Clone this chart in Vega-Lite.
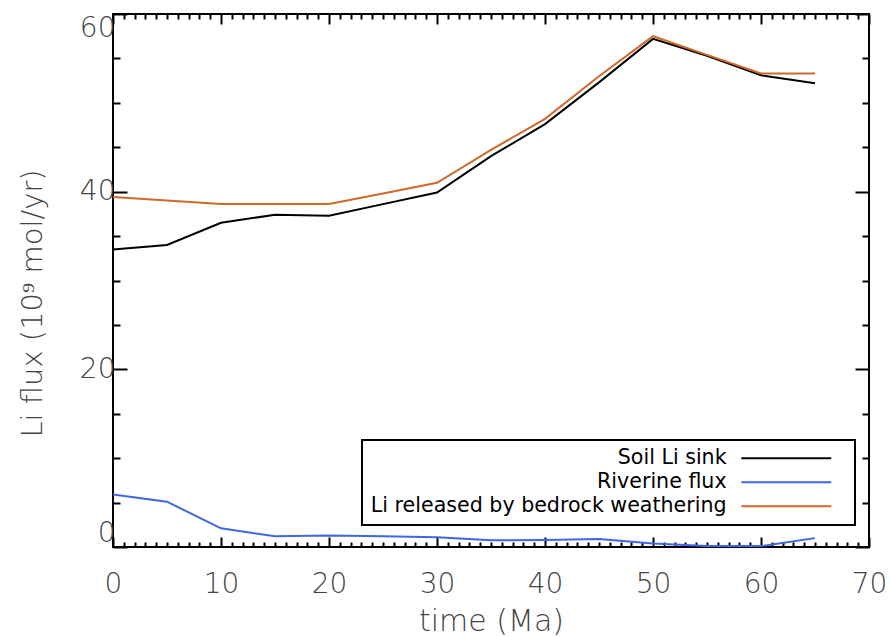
{
  "$schema": "https://vega.github.io/schema/vega-lite/v6.json",
  "width": 756,
  "height": 533,
  "autosize": {"type": "none"},
  "padding": {"left": 113, "top": 14, "right": 21, "bottom": 90},
  "background": "white",
  "config": {
    "view": {"stroke": "black", "strokeWidth": 2},
    "font": "DejaVu Sans",
    "axis": {"domain": false, "grid": false, "tickColor": "black", "tickWidth": 2, "labelColor": "#444", "titleColor": "#444", "labelFont": "DejaVu Sans", "titleFont": "DejaVu Sans", "labelFontWeight": 200, "titleFontWeight": 200},
    "legend": {"strokeColor": "black", "strokeWidth": 2, "fillColor": "white", "padding": 8}
  },
  "data": {
    "values": [
      {"t": 0, "series": "Soil Li sink", "flux": 33.5},
      {"t": 5, "series": "Soil Li sink", "flux": 34.0},
      {"t": 10, "series": "Soil Li sink", "flux": 36.5},
      {"t": 15, "series": "Soil Li sink", "flux": 37.4},
      {"t": 20, "series": "Soil Li sink", "flux": 37.3},
      {"t": 25, "series": "Soil Li sink", "flux": 38.6},
      {"t": 30, "series": "Soil Li sink", "flux": 39.9},
      {"t": 35, "series": "Soil Li sink", "flux": 44.0},
      {"t": 40, "series": "Soil Li sink", "flux": 47.6},
      {"t": 45, "series": "Soil Li sink", "flux": 52.3},
      {"t": 50, "series": "Soil Li sink", "flux": 57.2},
      {"t": 55, "series": "Soil Li sink", "flux": 55.3},
      {"t": 60, "series": "Soil Li sink", "flux": 53.1},
      {"t": 65, "series": "Soil Li sink", "flux": 52.2},
      {"t": 0, "series": "Riverine flux", "flux": 5.9},
      {"t": 5, "series": "Riverine flux", "flux": 5.1},
      {"t": 10, "series": "Riverine flux", "flux": 2.1},
      {"t": 15, "series": "Riverine flux", "flux": 1.2},
      {"t": 20, "series": "Riverine flux", "flux": 1.3},
      {"t": 25, "series": "Riverine flux", "flux": 1.2},
      {"t": 30, "series": "Riverine flux", "flux": 1.1},
      {"t": 35, "series": "Riverine flux", "flux": 0.75},
      {"t": 40, "series": "Riverine flux", "flux": 0.8},
      {"t": 45, "series": "Riverine flux", "flux": 0.9},
      {"t": 50, "series": "Riverine flux", "flux": 0.4},
      {"t": 55, "series": "Riverine flux", "flux": 0.1},
      {"t": 60, "series": "Riverine flux", "flux": 0.1},
      {"t": 65, "series": "Riverine flux", "flux": 1.0},
      {"t": 0, "series": "Li released by bedrock weathering", "flux": 39.4},
      {"t": 5, "series": "Li released by bedrock weathering", "flux": 39.0},
      {"t": 10, "series": "Li released by bedrock weathering", "flux": 38.6},
      {"t": 15, "series": "Li released by bedrock weathering", "flux": 38.6},
      {"t": 20, "series": "Li released by bedrock weathering", "flux": 38.6},
      {"t": 25, "series": "Li released by bedrock weathering", "flux": 39.8},
      {"t": 30, "series": "Li released by bedrock weathering", "flux": 41.0},
      {"t": 35, "series": "Li released by bedrock weathering", "flux": 44.7},
      {"t": 40, "series": "Li released by bedrock weathering", "flux": 48.2},
      {"t": 45, "series": "Li released by bedrock weathering", "flux": 53.0},
      {"t": 50, "series": "Li released by bedrock weathering", "flux": 57.5},
      {"t": 55, "series": "Li released by bedrock weathering", "flux": 55.4},
      {"t": 60, "series": "Li released by bedrock weathering", "flux": 53.3},
      {"t": 65, "series": "Li released by bedrock weathering", "flux": 53.3}
    ]
  },
  "layer": [
    {
      "mark": {"type": "line", "strokeWidth": 2},
      "encoding": {
        "x": {
          "field": "t", "type": "quantitative",
          "scale": {"domain": [0, 70], "nice": false, "zero": false},
          "axis": {
            "orient": "bottom",
            "values": [0,1,2,3,4,5,6,7,8,9,10,11,12,13,14,15,16,17,18,19,20,21,22,23,24,25,26,27,28,29,30,31,32,33,34,35,36,37,38,39,40,41,42,43,44,45,46,47,48,49,50,51,52,53,54,55,56,57,58,59,60,61,62,63,64,65,66,67,68,69,70],
            "labelExpr": "datum.value % 10 === 0 ? datum.label : ''",
            "tickSize": {"condition": {"test": "datum.value % 10 === 0", "value": -10}, "value": -5},
            "labelFlush": false,
            "labelOverlap": false,
            "labelFontSize": 28,
            "labelPadding": 33,
            "title": "time (Ma)",
            "titleFontSize": 30,
            "titlePadding": 3
          }
        },
        "y": {
          "field": "flux", "type": "quantitative",
          "scale": {"domain": [0, 60], "nice": false},
          "axis": {
            "orient": "left",
            "values": [0,5,10,15,20,25,30,35,40,45,50,55,60],
            "labelExpr": "datum.value % 20 === 0 ? datum.label : ''",
            "tickSize": {"condition": {"test": "datum.value % 20 === 0", "value": -14}, "value": -7},
            "labelFlush": true,
            "labelOverlap": false,
            "labelFontSize": 28,
            "labelPadding": 12,
            "title": "Li flux (10⁹ mol/yr)",
            "titleFontSize": 29,
            "titleX": -66,
            "titleY": 289
          }
        },
        "color": {
          "field": "series", "type": "nominal",
          "scale": {
            "domain": ["Soil Li sink", "Riverine flux", "Li released by bedrock weathering"],
            "range": ["#000000", "#3f66e3", "#d0692a"]
          },
          "legend": {
            "orient": "none",
            "legendX": 249,
            "legendY": 426,
            "symbolType": "M 361,0 H 451 M 462,0",
            "symbolSize": 4,
            "symbolStrokeWidth": 2,
            "symbolFillColor": "transparent",
            "labelAlign": "right",
            "labelOffset": 336,
            "labelFontSize": 20.6,
            "labelFont": "DejaVu Sans",
            "labelColor": "black",
            "labelLimit": 500,
            "rowPadding": 3,
            "title": null
          }
        }
      }
    },
    {
      "mark": {"type": "line", "strokeWidth": 2, "opacity": 0},
      "encoding": {
        "x": {
          "field": "t", "type": "quantitative",
          "axis": {
            "orient": "top",
            "values": [0,1,2,3,4,5,6,7,8,9,10,11,12,13,14,15,16,17,18,19,20,21,22,23,24,25,26,27,28,29,30,31,32,33,34,35,36,37,38,39,40,41,42,43,44,45,46,47,48,49,50,51,52,53,54,55,56,57,58,59,60,61,62,63,64,65,66,67,68,69,70],
            "labels": false,
            "tickSize": {"condition": {"test": "datum.value % 10 === 0", "value": -10}, "value": -5},
            "title": null
          }
        },
        "y": {
          "field": "flux", "type": "quantitative",
          "axis": {
            "orient": "right",
            "values": [0,5,10,15,20,25,30,35,40,45,50,55,60],
            "labels": false,
            "tickSize": {"condition": {"test": "datum.value % 20 === 0", "value": -14}, "value": -7},
            "title": null
          }
        },
        "detail": {"field": "series"}
      }
    }
  ],
  "resolve": {"axis": {"x": "independent", "y": "independent"}}
}
